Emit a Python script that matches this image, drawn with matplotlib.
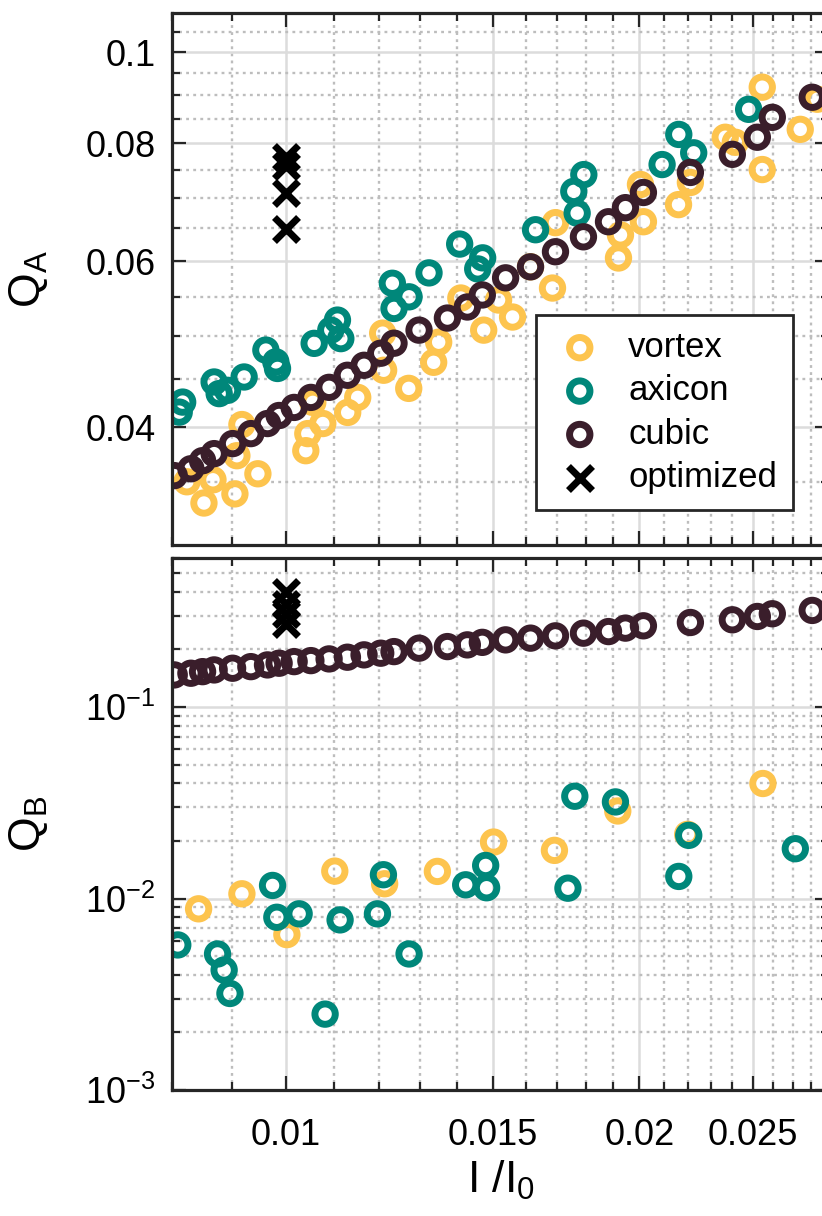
import numpy as np
import matplotlib
matplotlib.use("Agg")
import matplotlib.pyplot as plt
from matplotlib.ticker import FixedLocator, NullFormatter, LogLocator, FuncFormatter

plt.rcParams['font.family'] = ['Liberation Sans', 'DejaVu Sans']
plt.rcParams['mathtext.fontset'] = 'custom'
plt.rcParams['mathtext.rm'] = 'Liberation Sans'
plt.rcParams['mathtext.it'] = 'Liberation Sans'
plt.rcParams['mathtext.default'] = 'regular'

# ---- data ----
cubic_x = [0.008035, 0.008302, 0.008494, 0.008689, 0.009009, 0.009337, 0.009647, 0.009869,
           0.010164, 0.010503, 0.010885, 0.011283, 0.011657, 0.012044, 0.012362, 0.012984,
           0.013726, 0.014273, 0.014698, 0.015385, 0.016155, 0.016965, 0.017921, 0.018823,
           0.019458, 0.020156, 0.022100, 0.023994, 0.025200, 0.025950, 0.028062]
cubic_qa = [0.03554, 0.03614, 0.03686, 0.03750, 0.03843, 0.03938, 0.04036, 0.04116,
            0.04198, 0.04302, 0.04409, 0.04541, 0.04653, 0.04792, 0.04911, 0.05070,
            0.05222, 0.05365, 0.05525, 0.05761, 0.05918, 0.06140, 0.06368, 0.06607,
            0.06838, 0.07096, 0.07452, 0.07789, 0.08121, 0.08526, 0.08954]
cubic_qb = [0.1471, 0.1501, 0.1530, 0.1562, 0.1594, 0.1625, 0.1659, 0.1693,
            0.1726, 0.1747, 0.1783, 0.1820, 0.1872, 0.1910, 0.1947, 0.2029,
            0.2068, 0.2111, 0.2176, 0.2242, 0.2289, 0.2353, 0.2430, 0.2477,
            0.2582, 0.2655, 0.2763, 0.2854, 0.2970, 0.3069, 0.3194]

vortex_x_a = [0.008237, 0.008517, 0.008669, 0.009050, 0.009085, 0.009175, 0.009467, 0.010399,
              0.010440, 0.010751, 0.010543, 0.011289, 0.011513, 0.012113, 0.012090, 0.012724,
              0.013361, 0.013493, 0.014092, 0.014738, 0.015174, 0.015596, 0.016155, 0.016866,
              0.016965, 0.019195, 0.019270, 0.020156, 0.020040, 0.021592, 0.022100, 0.023663,
              0.024134, 0.025443, 0.025443, 0.027410, 0.028340]
vortex_qa = [0.03501, 0.03324, 0.03518, 0.03399, 0.03731, 0.04026, 0.03570, 0.03777,
             0.03938, 0.04036, 0.04250, 0.04147, 0.04302, 0.04597, 0.05033, 0.04398,
             0.04687, 0.04923, 0.05484, 0.05070, 0.05457, 0.05235, 0.05918, 0.05619,
             0.06592, 0.06047, 0.06398, 0.06607, 0.07236, 0.06889, 0.07272, 0.08121,
             0.08022, 0.07505, 0.09177, 0.08279, 0.08911]
vortex_x_b = [0.008428, 0.009175, 0.010020, 0.011007, 0.012137, 0.013459, 0.015025, 0.016930,
              0.019168, 0.021983, 0.025476]
vortex_qb = [0.008834, 0.010583, 0.006479, 0.01390, 0.01194, 0.01385, 0.01971, 0.01784,
             0.02865, 0.02163, 0.03986]

axicon_x_a = [0.008114, 0.008169, 0.008689, 0.008775, 0.008920, 0.009215, 0.009616, 0.009806,
              0.009838, 0.010571, 0.010921, 0.011065, 0.011138, 0.012322, 0.012362, 0.012732,
              0.013240, 0.014060, 0.014708, 0.014566, 0.016315, 0.017585, 0.017701, 0.017934,
              0.020908, 0.021603, 0.022244, 0.024774]
axicon_qa = [0.04150, 0.04253, 0.04467, 0.04342, 0.04377, 0.04522, 0.04829, 0.04692,
             0.04617, 0.04909, 0.05070, 0.05196, 0.04966, 0.05685, 0.05346, 0.05500,
             0.05831, 0.06256, 0.06049, 0.05888, 0.06479, 0.07115, 0.06747, 0.07413,
             0.07597, 0.08177, 0.07818, 0.08694]
axicon_x_b = [0.008091, 0.008747, 0.008861, 0.008962, 0.009743, 0.009825, 0.010264, 0.010800,
              0.011122, 0.011967, 0.012108, 0.012732, 0.014227, 0.014795, 0.014822, 0.017384,
              0.017620, 0.019081, 0.021603, 0.022029, 0.027147]
axicon_qb = [0.005722, 0.005134, 0.004232, 0.003192, 0.01170, 0.007981, 0.008317, 0.002490,
             0.007734, 0.008317, 0.01331, 0.005134, 0.01179, 0.01488, 0.01138, 0.01132,
             0.03420, 0.03194, 0.01304, 0.02137, 0.01820]

opt_x = [0.01, 0.01, 0.01, 0.01]
opt_qa = [0.07746, 0.07577, 0.07095, 0.06495]
opt_qb = [0.4000, 0.3461, 0.3069, 0.2721]

x_major = [0.01, 0.015, 0.02, 0.025]
x_labels = ['0.01', '0.015', '0.02', '0.025']
qa_major = [0.04, 0.06, 0.08, 0.1]
qa_labels = ['0.04', '0.06', '0.08', '0.1']

c_vortex = '#FDC44E'
c_axicon = '#00877A'
c_cubic = '#3A1E2B'

ring = dict(s=215, facecolors='none', linewidths=5.0)

W, H = 822, 1216
fig = plt.figure(figsize=(W / 100, H / 100), dpi=100)
left, right = 172 / W, 829 / W
axA = fig.add_axes([left, 1 - 545 / H, right - left, (545 - 13) / H])
axB = fig.add_axes([left, 1 - 1090 / H, right - left, (1090 - 558) / H])


def style(ax):
    ax.set_xscale('log')
    ax.set_yscale('log')
    ax.set_xlim(0.008, 0.029)
    ax.xaxis.set_major_locator(FixedLocator(x_major))
    minors = [v / 1000 for v in range(8, 30) if v not in (10, 15, 20, 25)]
    ax.xaxis.set_minor_locator(FixedLocator(minors))
    ax.xaxis.set_minor_formatter(NullFormatter())
    ax.set_axisbelow(True)
    ax.grid(True, which='major', color='#DCDCDC', lw=1.8, ls='-')
    ax.grid(True, which='minor', color='#BDBDBD', lw=1.7, ls=(0, (1.2, 1.8)))
    ax.tick_params(which='both', direction='in', top=True, right=True,
                   width=1.6, color='#262626', labelsize=26)
    ax.tick_params(which='major', length=10, pad=12)
    ax.tick_params(which='minor', length=5.5)
    ax.tick_params(axis='x', pad=20)
    for sp in ax.spines.values():
        sp.set_linewidth(2.3)
        sp.set_color('#262626')


style(axA)
style(axB)

# top panel
axA.scatter(vortex_x_a, vortex_qa, edgecolors=c_vortex, label='vortex', **ring)
axA.scatter(axicon_x_a, axicon_qa, edgecolors=c_axicon, label='axicon', **ring)
axA.scatter(cubic_x, cubic_qa, edgecolors=c_cubic, label='cubic', **ring)
axA.scatter(opt_x, opt_qa, marker='x', c='black', s=300, linewidths=5, label='optimized')
axA.set_ylim(0.03, 0.11)
axA.yaxis.set_major_locator(FixedLocator(qa_major))
axA.yaxis.set_major_formatter(FuncFormatter(lambda v, p: qa_labels[qa_major.index(round(v, 3))] if round(v, 3) in qa_major else ''))
axA.yaxis.set_minor_locator(FixedLocator([0.035, 0.045, 0.05, 0.055, 0.065, 0.07, 0.075,
                                          0.085, 0.09, 0.095, 0.105]))
axA.yaxis.set_minor_formatter(NullFormatter())
axA.xaxis.set_major_formatter(NullFormatter())
axA.set_ylabel(r'$Q_A$', fontsize=32)
axA.yaxis.set_label_coords(-0.185, 0.5)

leg = axA.legend(loc='upper right', bbox_to_anchor=(0.945, 0.432), borderaxespad=0,
                 fontsize=25, frameon=True, fancybox=False, edgecolor='#262626',
                 framealpha=1, handletextpad=0.6, labelspacing=0.3, borderpad=0.45,
                 handlelength=1.6, scatterpoints=1)
leg.get_frame().set_linewidth(2)

# bottom panel
axB.scatter(vortex_x_b, vortex_qb, edgecolors=c_vortex, **ring)
axB.scatter(axicon_x_b, axicon_qb, edgecolors=c_axicon, **ring)
axB.scatter(cubic_x, cubic_qb, edgecolors=c_cubic, **ring)
axB.scatter(opt_x, opt_qb, marker='x', c='black', s=300, linewidths=5)
axB.set_ylim(1e-3, 0.6)
axB.yaxis.set_major_locator(LogLocator(base=10, numticks=10))
axB.yaxis.set_minor_locator(LogLocator(base=10, subs=np.arange(2, 10), numticks=20))
axB.yaxis.set_minor_formatter(NullFormatter())
axB.yaxis.set_major_formatter(FuncFormatter(lambda v, p: r'$10^{-%d}$' % round(-np.log10(v))))
axB.xaxis.set_major_formatter(FuncFormatter(lambda v, p: x_labels[x_major.index(v)] if v in x_major else ''))
axB.set_ylabel(r'$Q_B$', fontsize=32)
axB.yaxis.set_label_coords(-0.185, 0.5)
axB.set_xlabel(r'$I\ /I_0$', fontsize=32)

fig.savefig('out.png', dpi=100)
